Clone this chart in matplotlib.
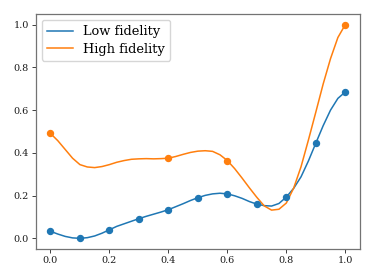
import numpy as np
import matplotlib
matplotlib.use("Agg")
import matplotlib.pyplot as plt

plt.rcParams['font.family'] = ['DejaVu Serif']

# observed points
x_low = [0.0, 0.1, 0.2, 0.3, 0.4, 0.5, 0.6, 0.7, 0.8, 0.9, 1.0]
y_low = [0.033, 0.0, 0.040, 0.092, 0.134, 0.190, 0.208, 0.160, 0.193, 0.445, 0.685]
x_high = [0.0, 0.4, 0.6, 1.0]
y_high = [0.491, 0.375, 0.364, 1.0]

# smooth curves
x_curve = [0.000, 0.025, 0.050, 0.075, 0.100, 0.125, 0.150, 0.175, 0.200, 0.225,
           0.250, 0.275, 0.300, 0.325, 0.350, 0.375, 0.400, 0.425, 0.450, 0.475,
           0.500, 0.525, 0.550, 0.575, 0.600, 0.625, 0.650, 0.675, 0.700, 0.725,
           0.750, 0.775, 0.800, 0.825, 0.850, 0.875, 0.900, 0.925, 0.950, 0.975,
           1.000]
low_curve = [0.033, 0.020, 0.009, 0.002, 0.000, 0.003, 0.011, 0.024, 0.040, 0.056,
             0.068, 0.080, 0.092, 0.103, 0.113, 0.123, 0.134, 0.148, 0.162, 0.177,
             0.190, 0.201, 0.208, 0.211, 0.208, 0.199, 0.187, 0.172, 0.160, 0.153,
             0.151, 0.163, 0.193, 0.234, 0.288, 0.362, 0.445, 0.527, 0.600, 0.655,
             0.685]
high_curve = [0.491, 0.457, 0.416, 0.375, 0.345, 0.334, 0.331, 0.336, 0.345, 0.356,
              0.364, 0.370, 0.372, 0.373, 0.372, 0.373, 0.375, 0.383, 0.393, 0.402,
              0.408, 0.410, 0.407, 0.391, 0.364, 0.326, 0.282, 0.236, 0.192, 0.152,
              0.132, 0.136, 0.165, 0.235, 0.335, 0.460, 0.590, 0.722, 0.841, 0.940,
              1.000]

c_low = '#1f77b4'
c_high = '#ff7f0e'

fig = plt.figure(figsize=(3.74, 2.8), dpi=100)
ax = fig.add_axes([35.7/374, 1 - 249/280, (360 - 35.7)/374, (249 - 14)/280])

ax.plot(x_curve, low_curve, color=c_low, lw=1.1, label='Low fidelity')
ax.plot(x_curve, high_curve, color=c_high, lw=1.1, label='High fidelity')
ax.plot(x_low, y_low, 'o', color=c_low, ms=4.3)
ax.plot(x_high, y_high, 'o', color=c_high, ms=4.3)

ax.set_xlim(-0.05, 1.05)
ax.set_ylim(-0.05, 1.05)
ax.set_xticks([0.0, 0.2, 0.4, 0.6, 0.8, 1.0])
ax.set_yticks([0.0, 0.2, 0.4, 0.6, 0.8, 1.0])
ax.tick_params(labelsize=6.9, length=3.2, width=0.7, color='0.25',
               labelcolor='0.1', pad=1.8)
for s in ax.spines.values():
    s.set_color('0.45')
    s.set_linewidth(0.9)

ax.legend(loc='upper left', fontsize=9.4, handlelength=2.0, borderpad=0.4,
          labelspacing=0.35, handletextpad=0.8, borderaxespad=0.45)

fig.savefig('out.png', dpi=100)
